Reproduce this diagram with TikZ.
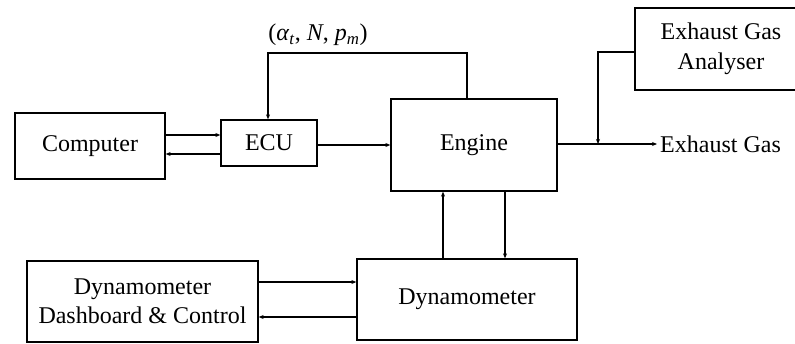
\documentclass[tikz,border=0pt]{standalone}
\usepackage{fontspec}
\setmainfont{Liberation Serif}
\usetikzlibrary{arrows.meta}
\begin{document}
\begin{tikzpicture}[x=1pt,y=-1pt,
  blk/.style={draw, line width=1.3pt, inner sep=0pt, align=center, font=\fontsize{24}{29.5}\selectfont},
  conn/.style={line width=1.2pt},
  arr/.style={conn, -{Stealth[length=5pt,width=4pt]}},
  lbl/.style={inner sep=0pt, font=\fontsize{24}{29.5}\selectfont}]
\useasboundingbox (0,0) rectangle (795,343);
\clip (0,0) rectangle (795,343);
\node[blk, minimum width=150, minimum height=66] (computer) at (90,146) {Computer};
\node[blk, minimum width=96, minimum height=46] (ecu) at (269,143) {ECU};
\node[blk, minimum width=166, minimum height=92] (engine) at (474,145) {Engine};
\node[blk, minimum width=172, minimum height=82] (ega) at (721,49) {Exhaust Gas\\Analyser};
\node[blk, minimum width=231, minimum height=81] (dash) at (142.5,301.5) {Dynamometer\\Dashboard \& Control};
\node[blk, minimum width=220, minimum height=81] (dyn) at (467,299.5) {Dynamometer};
\node[lbl] (param) at (318,35) {(\textit{α}\textsubscript{\textit{t}}, \textit{N}, \textit{p}\textsubscript{\textit{m}})};
\node[lbl, anchor=west] (exh) at (660,144) {Exhaust Gas};
\coordinate (exhend) at (657,144);
\coordinate (junc) at (598,144);
\coordinate (topr) at (467,53);
\coordinate (topl) at (268,53);
\coordinate (ltop) at (598,52);

\draw[arr] (computer.east |- 0,135) -- (ecu.west |- 0,135);
\draw[arr] (ecu.west |- 0,154) -- (computer.east |- 0,154);
\draw[arr] (ecu.east |- 0,145) -- (engine.west |- 0,145);
\draw[arr] (topr |- engine.north) -- (topr) -- (topl) -- (topl |- ecu.north);
\draw[arr] (engine.east |- exhend) -- (exhend);
\draw[arr] (ega.west |- ltop) -- (ltop) -- (junc);
\draw[arr] (dyn.north -| 443,0) -- (engine.south -| 443,0);
\draw[arr] (engine.south -| 505,0) -- (dyn.north -| 505,0);
\draw[arr] (dash.east |- 0,282) -- (dyn.west |- 0,282);
\draw[arr] (dyn.west |- 0,317) -- (dash.east |- 0,317);
\end{tikzpicture}
\end{document}
